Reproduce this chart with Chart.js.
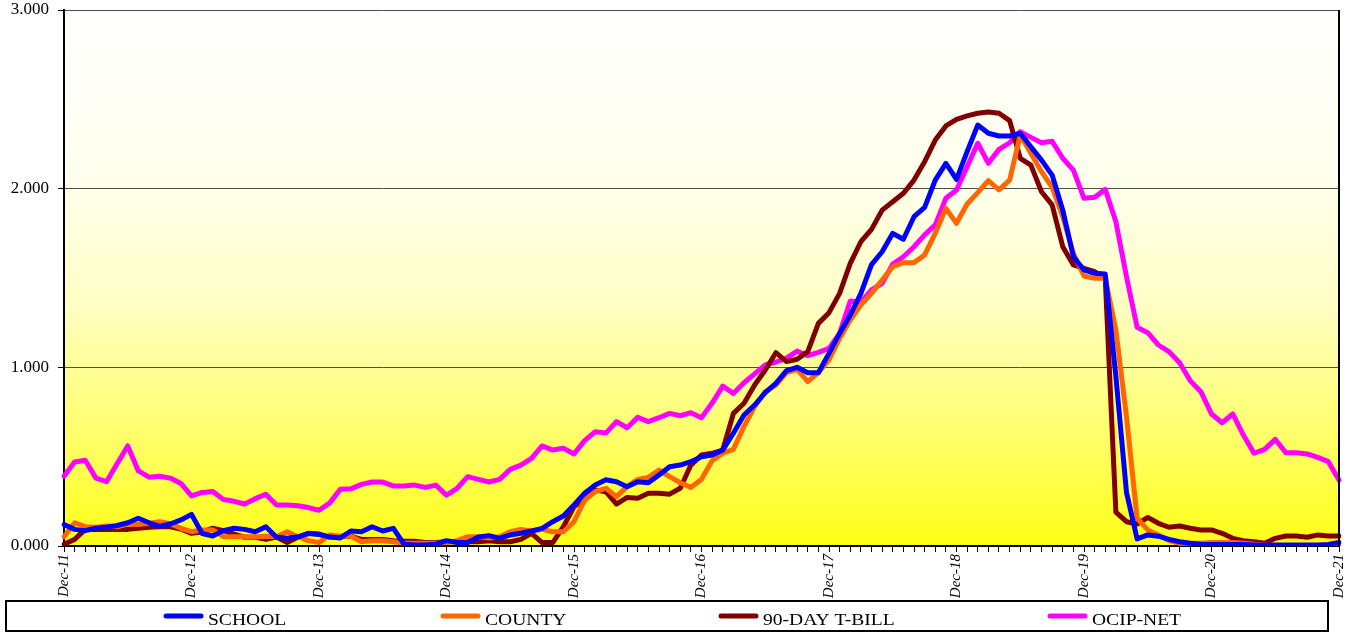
<!DOCTYPE html>
<html><head><meta charset="utf-8">
<script src="https://cdn.jsdelivr.net/npm/chart.js@4/dist/chart.umd.min.js"></script>
<style>html,body{margin:0;padding:0;background:#fff;overflow:hidden}#wrap{width:1355px;height:639px;position:relative}</style>
</head><body><div id="wrap"><canvas id="c" width="1355" height="639"></canvas></div>
<script>
const MONTHS = ['Jan','Feb','Mar','Apr','May','Jun','Jul','Aug','Sep','Oct','Nov','Dec'];
const tickLabels = ['Dec-11','Dec-12','Dec-13','Dec-14','Dec-15','Dec-16','Dec-17','Dec-18','Dec-19','Dec-20','Dec-21'];
const categories = [];
for (let i = 0; i < 121; i++) {
  const m = (11 + i) % 12, y = 11 + Math.floor((11 + i) / 12);
  categories.push(MONTHS[m] + '-' + String(y).padStart(2, '0'));
}
const seriesNames = ['SCHOOL', 'COUNTY', '90-DAY T-BILL', 'OCIP-NET'];

const school = [
0.12,0.093,0.086,0.099,0.105,0.115,0.13,0.155,0.13,0.11,0.123,0.146,
0.177,0.07,0.056,0.086,0.099,0.093,0.08,0.108,0.049,0.043,0.05,0.07,
0.065,0.05,0.045,0.084,0.08,0.108,0.084,0.099,0.01,0.005,0.005,0.01,
0.03,0.02,0.02,0.05,0.058,0.043,0.062,0.071,0.084,0.099,0.136,0.168,
0.23,0.295,0.341,0.371,0.36,0.332,0.36,0.354,0.397,0.444,0.453,0.472,
0.5,0.509,0.537,0.631,0.733,0.789,0.858,0.91,0.981,1.0,0.97,0.97,
1.078,1.19,1.293,1.414,1.575,1.647,1.75,1.717,1.843,1.895,2.048,2.142,
2.052,2.207,2.356,2.31,2.295,2.295,2.31,2.235,2.16,2.076,1.88,1.619,
1.545,1.526,1.522,0.95,0.3,0.04,0.062,0.055,0.037,0.024,0.015,0.01,
0.008,0.008,0.008,0.008,0.005,0.005,0.005,0.005,0.005,0.005,0.005,0.008,
0.02];

const county = [
0.052,0.13,0.108,0.105,0.112,0.108,0.123,0.12,0.127,0.136,0.125,0.099,
0.08,0.09,0.09,0.052,0.052,0.052,0.05,0.055,0.052,0.08,0.052,0.03,
0.019,0.062,0.055,0.055,0.024,0.03,0.03,0.024,0.015,0.015,0.015,0.015,
0.02,0.03,0.052,0.052,0.045,0.052,0.08,0.093,0.084,0.093,0.08,0.08,
0.136,0.257,0.304,0.323,0.276,0.332,0.373,0.384,0.425,0.388,0.354,0.328,
0.373,0.477,0.519,0.541,0.668,0.78,0.864,0.901,0.97,0.989,0.92,0.97,
1.041,1.162,1.265,1.349,1.414,1.489,1.563,1.586,1.586,1.629,1.75,1.89,
1.806,1.914,1.978,2.045,1.993,2.048,2.3,2.198,2.095,2.008,1.843,1.638,
1.511,1.498,1.498,1.209,0.724,0.155,0.09,0.062,0.03,0.015,0.015,0.015,
0.02,0.02,0.02,0.015,0.01,0.005,0,0,0,0,0,0,
0];

const tbill = [
0.01,0.037,0.093,0.093,0.093,0.093,0.093,0.099,0.105,0.108,0.108,0.095,
0.071,0.078,0.1,0.086,0.067,0.049,0.049,0.037,0.05,0.019,0.049,0.071,
0.067,0.05,0.052,0.055,0.037,0.037,0.037,0.03,0.026,0.026,0.019,0.019,
0.024,0.024,0.024,0.024,0.03,0.024,0.024,0.037,0.071,0.019,0.019,0.108,
0.22,0.261,0.313,0.304,0.235,0.272,0.267,0.295,0.295,0.29,0.323,0.453,
0.509,0.519,0.537,0.742,0.799,0.901,0.985,1.082,1.032,1.045,1.088,1.246,
1.306,1.414,1.582,1.703,1.772,1.88,1.927,1.974,2.048,2.151,2.272,2.351,
2.388,2.407,2.422,2.429,2.422,2.381,2.17,2.132,1.983,1.909,1.675,1.573,
1.554,1.535,1.498,0.19,0.136,0.123,0.16,0.127,0.105,0.112,0.099,0.09,
0.09,0.071,0.043,0.03,0.024,0.015,0.043,0.056,0.056,0.049,0.062,0.056,
0.056];

const ocip = [
0.39,0.47,0.48,0.38,0.36,0.46,0.56,0.42,0.385,0.39,0.38,0.35,
0.28,0.30,0.305,0.26,0.25,0.235,0.265,0.29,0.23,0.23,0.225,0.215,
0.20,0.24,0.317,0.32,0.345,0.358,0.358,0.336,0.336,0.341,0.328,0.341,
0.284,0.323,0.388,0.373,0.358,0.373,0.429,0.453,0.49,0.56,0.537,0.547,
0.515,0.59,0.64,0.632,0.696,0.662,0.72,0.696,0.718,0.742,0.729,0.746,
0.718,0.80,0.895,0.854,0.914,0.963,1.013,1.03,1.052,1.091,1.065,1.084,
1.106,1.19,1.371,1.364,1.433,1.47,1.578,1.619,1.675,1.741,1.797,1.946,
1.993,2.123,2.254,2.142,2.22,2.257,2.319,2.287,2.257,2.265,2.17,2.104,
1.946,1.952,1.996,1.815,1.507,1.224,1.194,1.125,1.088,1.026,0.925,0.864,
0.739,0.69,0.739,0.621,0.519,0.541,0.597,0.522,0.522,0.515,0.496,0.472,
0.369];

const colors = ['#0000FF', '#FF6600', '#800000', '#FF00FF'];
const legendX = [163, 440, 718, 1047];

const bgPlugin = {
  id: 'bgPlugin',
  beforeDraw(chart) {
    const {ctx, chartArea: a} = chart;
    const g = ctx.createLinearGradient(0, a.top, 0, a.bottom);
    g.addColorStop(0, '#FFFFFF');
    g.addColorStop(0.33, '#FFFFEC');
    g.addColorStop(0.55, '#FFFFC4');
    g.addColorStop(0.67, '#FFFF98');
    g.addColorStop(0.85, '#FFFF55');
    g.addColorStop(1, '#FFFF14');
    ctx.save();
    ctx.fillStyle = g;
    ctx.fillRect(a.left, a.top, a.right - a.left, a.bottom - a.top);
    ctx.restore();
  },
  afterDraw(chart) {
    const {ctx, chartArea: a} = chart;
    ctx.save();
    ctx.strokeStyle = '#000';
    ctx.lineWidth = 2;
    ctx.beginPath();
    ctx.moveTo(a.right, a.top);
    ctx.lineTo(a.right, a.bottom);
    ctx.stroke();
    // legend box
    ctx.fillStyle = '#fff';
    ctx.fillRect(6, 601, 1322, 30);
    ctx.strokeRect(6, 601, 1322, 30);
    chart.data.datasets.forEach((d, i) => {
      const x = legendX[i];
      ctx.strokeStyle = d.borderColor;
      ctx.lineWidth = 5;
      ctx.lineCap = 'round';
      ctx.beginPath();
      ctx.moveTo(x + 3, 616);
      ctx.lineTo(x + 38, 616);
      ctx.stroke();
      ctx.fillStyle = '#000';
      ctx.font = '17px "Liberation Serif", "Times New Roman", serif';
      ctx.textBaseline = 'alphabetic';
      ctx.textAlign = 'left';
      ctx.save();
      ctx.translate(x + 45, 625);
      ctx.scale(1.15, 1);
      ctx.fillText(d.label, 0, 0);
      ctx.restore();
    });
    ctx.restore();
  }
};

const seriesData = [school, county, tbill, ocip];
new Chart(document.getElementById('c'), {
  type: 'line',
  data: {
    labels: categories,
    datasets: seriesNames.map((n, i) => ({
      label: n,
      data: seriesData[i],
      borderColor: colors[i],
      backgroundColor: colors[i],
      borderWidth: 5,
      pointRadius: 0,
      tension: 0,
      fill: false,
      borderJoinStyle: 'round',
      borderCapStyle: 'round'
    }))
  },
  options: {
    responsive: false,
    animation: false,
    devicePixelRatio: 1,
    layout: {padding: {top: 10, right: 16, bottom: 39, left: 0}},
    plugins: {legend: {display: false}, tooltip: {enabled: false}},
    scales: {
      x: {
        type: 'category',
        offset: false,
        ticks: {
          autoSkip: false,
          maxRotation: 90,
          minRotation: 90,
          padding: 2,
          color: '#000',
          font: {family: '"Liberation Serif", "Times New Roman", serif', size: 15, style: 'italic'},
          callback: function(v, i) { return tickLabels.includes(categories[i]) ? categories[i] : ''; }
        },
        grid: {drawOnChartArea: false, drawTicks: true, tickLength: 6, tickColor: '#000', lineWidth: 1},
        border: {display: true, color: '#000', width: 2},
        afterFit: s => { s.height = 54; s.paddingLeft = 0; s.paddingRight = 0; }
      },
      y: {
        min: 0,
        max: 3,
        ticks: {
          stepSize: 1,
          padding: 9,
          color: '#000',
          font: {family: '"Liberation Serif", "Times New Roman", serif', size: 17},
          callback: v => Number(v).toFixed(3)
        },
        grid: {color: '#4d4d4d', lineWidth: 1, tickLength: 6, tickColor: '#000'},
        border: {display: true, color: '#000', width: 2},
        afterFit: s => { s.width = 64; s.paddingTop = 0; s.paddingBottom = 0; }
      }
    }
  },
  plugins: [bgPlugin]
});
</script>
</body></html>
